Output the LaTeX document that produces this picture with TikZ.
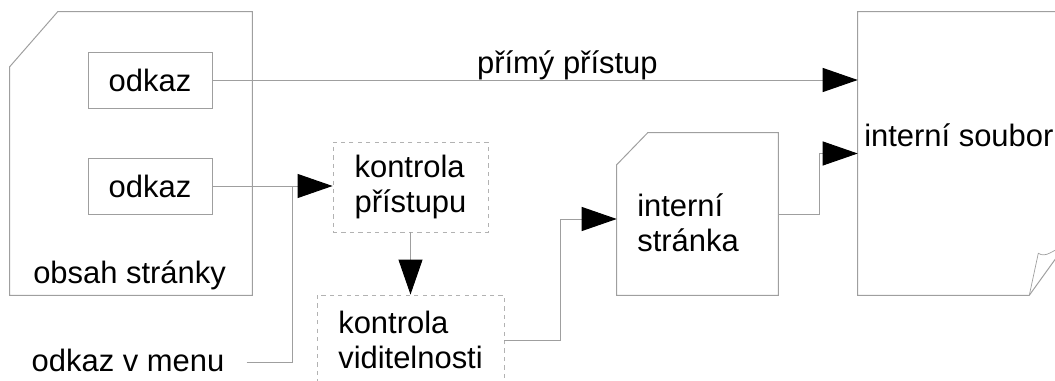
\documentclass[tikz,border=0pt]{standalone}
\usepackage{fontspec}
\setmainfont{Liberation Sans}
\usetikzlibrary{arrows.meta,positioning,calc}

\begin{document}
\begin{tikzpicture}[
            x=0.25mm, y=-0.25mm,
            font=\fontsize{22}{25}\selectfont,
            wire/.style={draw=gray!75, line width=0.7pt},
            arrow/.style={wire, -{Triangle[length=8.75mm, width=6mm, color=black]}},
            pagebox/.style={rectangle, minimum width=#1, minimum height=70.75mm, inner sep=0pt},
            linkbox/.style={rectangle, wire, minimum width=31mm, minimum height=14mm},
            check/.style={rectangle, draw=gray!60, dashed, line width=0.6pt, minimum height=22.5mm, align=left},
            txt/.style={inner sep=0pt, align=left}
        ]
            \useasboundingbox (0,0) rectangle (1055,381);

            % Page content
            \node[pagebox=60.5mm] (obsah) at (131,153.5) {};
            \draw[wire] ($(obsah.north west)+(0,55)$) -- ($(obsah.north west)+(48,0)$) -- (obsah.north east) -- (obsah.south east) -- (obsah.south west) -- cycle;
            \node[linkbox] (odkaz1) at (150,80) {odkaz};
            \node[linkbox] (odkaz2) at (150,186) {odkaz};
            \node[txt, anchor=west] (obsahtxt) at (33,275) {obsah stránky};

            % Menu link
            \node[txt] (menu) at (128,360) {odkaz v menu};

            % Checks
            \node[check, minimum width=38.75mm] (pristup) at (410.5,187) {kontrola\\přístupu};
            \node[check, minimum width=46.75mm] (viditelnost) at (410.5,340) {kontrola\\viditelnosti};

            % Internal page
            \node[rectangle, minimum width=40.25mm, minimum height=40.5mm] (stranka) at (697.5,214) {};
            \draw[wire] ($(stranka.north west)+(0,32)$) -- ($(stranka.north west)+(31,0)$) -- (stranka.north east) -- (stranka.south east) -- (stranka.south west) -- cycle;
            \node[txt, anchor=west] (strankatxt) at (637,223) {interní\\stránka};

            % Internal file
            \node[pagebox=51.75mm] (soubor) at (961.5,153.5) {};
            \draw[wire] (soubor.north west) -- (soubor.north east) -- ($(soubor.south east)+(0,-50)$) -- ($(soubor.south east)+(-36,0)$) -- (soubor.south west) -- cycle;
            \draw[wire, line width=0.5pt] ($(soubor.south east)+(-36,0)$) -- ($(soubor.south east)+(-27,-42)$) .. controls ($(soubor.south east)+(-19,-37)$) and ($(soubor.south east)+(-13,-45)$) .. ($(soubor.south east)+(0,-50)$);
            \node[txt, anchor=west] (soubortxt) at (864,135) {interní soubor};

            % Arrows
            \coordinate (join) at ($(odkaz2 -| pristup.west)+(-40,0)$);
            \draw[arrow] (odkaz1) -- node[pos=0.55, above, inner sep=0pt] {přímý přístup} (odkaz1 -| soubor.west);
            \draw[arrow] (odkaz2) -- (odkaz2 -| pristup.west);
            \draw[wire] ($(menu.east)+(22,2)$) -| (join);
            \draw[arrow] (pristup) -- (viditelnost);
            \draw[arrow] (viditelnost.east) -- ++(56,0) |- ($(stranka.west)+(0,5)$);
            \draw[arrow] (stranka.east) -- ++(41,0) |- (soubor.west);
        \end{tikzpicture}
\end{document}
